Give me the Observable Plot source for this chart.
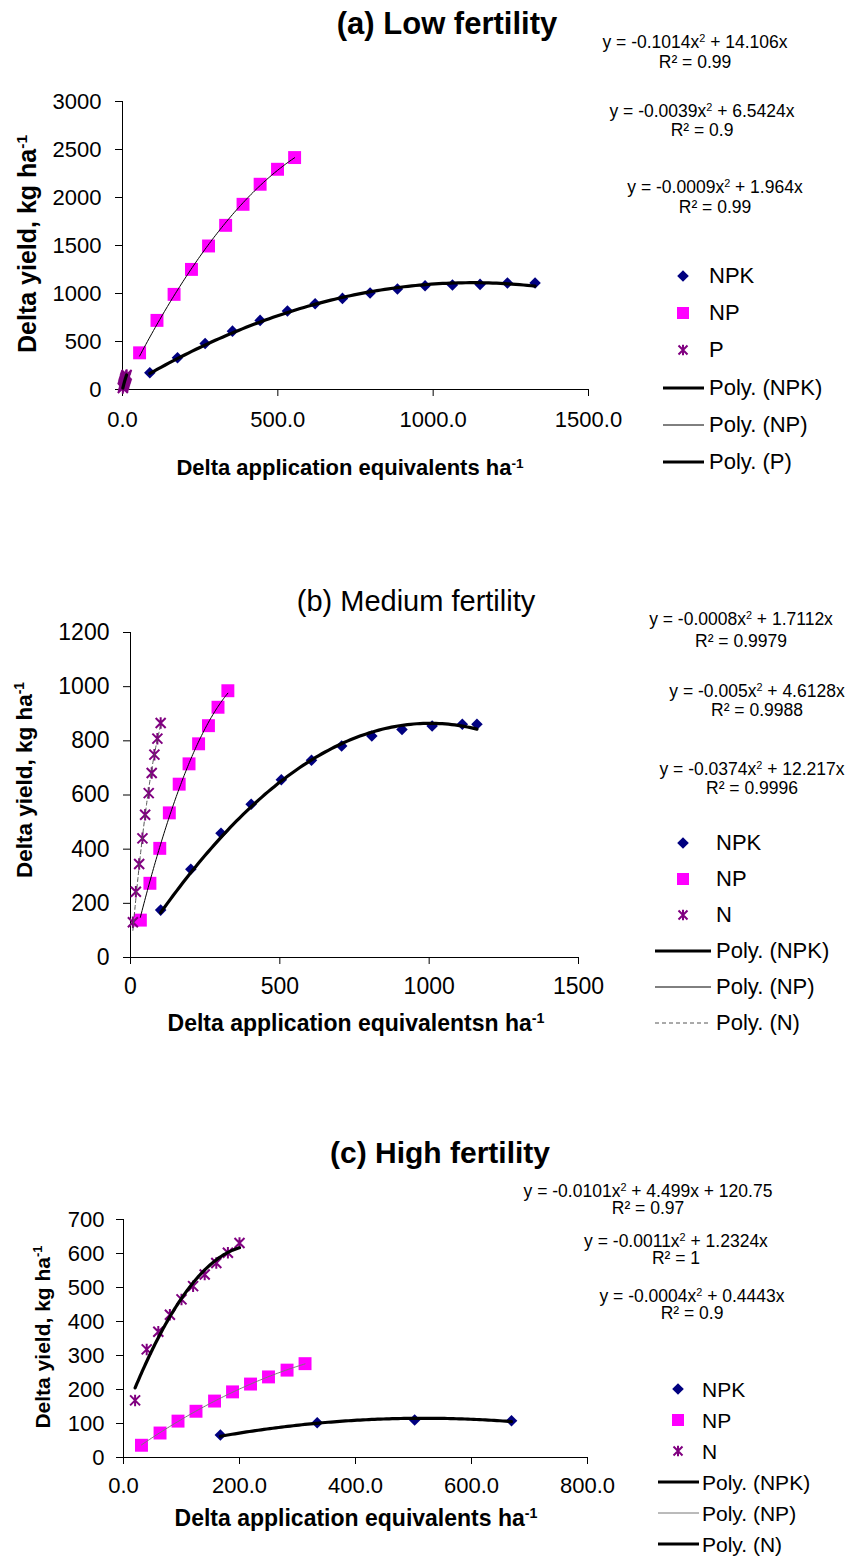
<!DOCTYPE html>
<html><head><meta charset="utf-8">
<script src="https://cdn.jsdelivr.net/npm/d3@7"></script>
<script src="https://cdn.jsdelivr.net/npm/@observablehq/plot@0.6"></script>
<style>
body{margin:0;background:#fff;}
#page{position:relative;width:856px;height:1558px;overflow:hidden;font-family:"Liberation Sans",Arial,sans-serif;color:#000;}
.t{position:absolute;white-space:nowrap;line-height:1;}
.c{transform:translate(-50%,-50%);text-align:center;}
.l{transform:translate(0,-50%);}
.r{transform:translate(-50%,-50%) rotate(-90deg);}
sup{font-size:0.62em;line-height:0;vertical-align:0.55em;}
.eq{font-size:17.5px;text-align:center;}
</style></head><body><div id="page"></div>
<script>
// ---------- DATA ----------
// Panel (a) Low fertility
const aNPK_x = [88, 177, 266, 354, 443, 531, 620, 708, 797, 885, 974, 1062, 1151, 1239, 1328];
const aNPK_y = [174, 330, 480, 608, 720, 817, 893, 949, 1005, 1046, 1081, 1088, 1095, 1109, 1109];
const aNP_x = [55, 111, 166, 222, 277, 332, 388, 443, 499, 554];
const aNP_y = [382, 720, 991, 1251, 1495, 1710, 1929, 2138, 2294, 2416];
const aP_x = [1.1, 2.2, 3.3, 4.4, 5.5, 6.6, 7.7, 8.8, 9.9, 11, 12.1, 13.2];
const aP_y = [16, 30, 45, 58, 70, 83, 95, 108, 119, 131, 142, 152];
const aXTicks = [0, 500, 1000, 1500];
const aYTicks = [0, 500, 1000, 1500, 2000, 2500, 3000];
const aLegend = ["NPK", "NP", "P", "Poly. (NPK)", "Poly. (NP)", "Poly. (P)"];
const aEq = [["-0.1014", "14.106x", "0.99"], ["-0.0039", "6.5424x", "0.9"], ["-0.0009", "1.964x", "0.99"]];

// Panel (b) Medium fertility
const bNPK_x = [101, 202, 303, 404, 505, 606, 707, 808, 909, 1010, 1111, 1160];
const bNPK_y = [175, 326, 459, 566, 656, 728, 781, 818, 842, 855, 861, 861];
const bNP_x = [33, 65, 98, 130, 163, 196, 228, 261, 293, 326];
const bNP_y = [138, 274, 403, 534, 640, 715, 789, 856, 924, 985];
const bN_x = [8, 18, 29, 40, 49, 61, 71, 80, 90, 101];
const bN_y = [130, 243, 345, 440, 527, 607, 681, 749, 808, 866];
const bXTicks = [0, 500, 1000, 1500];
const bYTicks = [0, 200, 400, 600, 800, 1000, 1200];
const bLegend = ["NPK", "NP", "N", "Poly. (NPK)", "Poly. (NP)", "Poly. (N)"];
const bEq = [["-0.0008", "1.7112x", "0.9979"], ["-0.005", "4.6128x", "0.9988"], ["-0.0374", "12.217x", "0.9996"]];

// Panel (c) High fertility
const cNPK_x = [167, 334, 502, 669];
const cNPK_y = [66, 102, 110, 108];
const cNP_x = [31, 63, 94, 125, 157, 188, 219, 250, 282, 313];
const cNP_y = [36, 72, 107, 136, 166, 193, 216, 237, 257, 276];
const cN_x = [20, 40, 60, 80, 100, 120, 140, 160, 180, 200];
const cN_y = [168, 318, 370, 420, 465, 504, 538, 572, 602, 631];
const cXTicks = [0, 200, 400, 600, 800];
const cYTicks = [0, 100, 200, 300, 400, 500, 600, 700];
const cLegend = ["NPK", "NP", "N", "Poly. (NPK)", "Poly. (NP)", "Poly. (N)"];
const cEq = [["-0.0101", "4.499x + 120.75", "0.97"], ["-0.0011", "1.2324x", "1"], ["-0.0004", "0.4443x", "0.9"]];

// ---------- HELPERS ----------
const page = document.getElementById("page");
const NAVY = "#000080", MAG = "#FF00FF", PURP = "#800080";
const starSym = {draw(ctx, size) {
  const r = Math.sqrt(size / Math.PI);
  ctx.moveTo(-r, -r); ctx.lineTo(r, r);
  ctx.moveTo(r, -r); ctx.lineTo(-r, r);
  ctx.moveTo(0, -r * 1.15); ctx.lineTo(0, r * 1.15);
}};
const zip = (xs, ys) => xs.map((x, i) => ({x, y: ys[i]}));

// least-squares quadratic trendline (as in the spreadsheet's "Poly." trendline)
function trend(xs, ys, intercept) {
  const basis = intercept ? [x => x * x, x => x, () => 1] : [x => x * x, x => x];
  const k = basis.length;
  const M = Array.from({length: k}, () => Array(k + 1).fill(0));
  xs.forEach((x, i) => {
    const f = basis.map(b => b(x));
    for (let r = 0; r < k; r++) { for (let c = 0; c < k; c++) M[r][c] += f[r] * f[c]; M[r][k] += f[r] * ys[i]; }
  });
  for (let i = 0; i < k; i++) {
    let p = i; for (let r = i + 1; r < k; r++) if (Math.abs(M[r][i]) > Math.abs(M[p][i])) p = r;
    [M[i], M[p]] = [M[p], M[i]];
    for (let r = 0; r < k; r++) { if (r === i) continue; const f = M[r][i] / M[i][i]; for (let c = i; c <= k; c++) M[r][c] -= f * M[i][c]; }
  }
  const coef = M.map((row, i) => row[k] / row[i]);
  const f = x => basis.reduce((s, b, i) => s + coef[i] * b(x), 0);
  const [lo, hi] = d3.extent(xs);
  return d3.range(0, 101).map(i => { const x = lo + (hi - lo) * i / 100; return {x, y: f(x)}; });
}

function text(html, x, y, cls, style) {
  const d = document.createElement("div");
  d.className = "t " + cls;
  d.innerHTML = html;
  d.style.left = x + "px"; d.style.top = y + "px";
  Object.assign(d.style, style || {});
  page.appendChild(d);
  return d;
}

function panel(cfg) {
  const svg = Plot.plot({
    width: 856, height: cfg.height,
    marginLeft: cfg.ml, marginRight: 856 - cfg.xr, marginTop: cfg.mt, marginBottom: cfg.mb,
    style: {fontFamily: '"Liberation Sans", Arial, sans-serif', fontSize: cfg.fs + "px", color: "#000", background: "transparent", overflow: "visible"},
    x: {domain: cfg.xDomain, label: null},
    y: {domain: cfg.yDomain, label: null},
    marks: [
      Plot.axisY({ticks: cfg.yTicks, tickSize: 7, tickPadding: cfg.ytp, tickFormat: d => String(d), label: null}),
      Plot.axisX({ticks: cfg.xTicks, tickSize: 7, tickPadding: cfg.xtp, tickFormat: cfg.xFmt, label: null}),
      Plot.ruleX([cfg.xDomain[0]], {stroke: "#000"}),
      Plot.ruleY([cfg.yDomain[0]], {stroke: "#000"}),
      ...cfg.marks
    ]
  });
  svg.style.position = "absolute"; svg.style.left = "0px"; svg.style.top = cfg.top + "px";
  page.appendChild(svg);
}

function legend(cfg) {
  const svg = d3.select(page).append("svg")
    .attr("width", 856).attr("height", 1558)
    .style("position", "absolute").style("left", 0).style("top", 0).style("pointer-events", "none");
  const y = cfg.rows;
  const g = svg.append("g");
  const mx = cfg.mx;
  g.append("path").attr("d", `M${mx},${y[0]-5.8}L${mx+5.8},${y[0]}L${mx},${y[0]+5.8}L${mx-5.8},${y[0]}Z`).attr("fill", NAVY);
  g.append("rect").attr("x", mx - 6).attr("y", y[1] - 6).attr("width", 12).attr("height", 12).attr("fill", MAG);
  const r = 4.5;
  g.append("path").attr("d", `M${mx-r},${y[2]-r}L${mx+r},${y[2]+r}M${mx+r},${y[2]-r}L${mx-r},${y[2]+r}M${mx},${y[2]-r*1.15}L${mx},${y[2]+r*1.15}`)
    .attr("stroke", PURP).attr("stroke-width", 2).attr("fill", "none");
  cfg.lines.forEach((ls, i) => {
    g.append("line").attr("x1", cfg.lx0).attr("x2", cfg.lx1).attr("y1", y[3 + i]).attr("y2", y[3 + i])
      .attr("stroke", ls.stroke).attr("stroke-width", ls.w).attr("stroke-dasharray", ls.dash || null);
  });
  cfg.labels.forEach((lab, i) => text(lab, cfg.tx, y[i], "l", {fontSize: cfg.fs + "px"}));
}

function equations(eqs, pos) {
  eqs.forEach((e, i) => {
    const p = pos[i];
    text(`y = ${e[0]}x<sup>2</sup> + ${e[1]}`, p[0], p[1], "c eq");
    text(`R² = ${e[2]}`, p[0], p[2], "c eq");
  });
}

// ---------- PANEL (a) ----------
panel({
  top: 0, height: 440, ml: 122, xr: 588, mt: 101, mb: 440 - 389, fs: 22, xtp: 15, ytp: 14,
  xDomain: [0, 1500], yDomain: [0, 3000], xTicks: aXTicks, yTicks: aYTicks, xFmt: d => d.toFixed(1),
  marks: [
    Plot.dot(zip(aNPK_x, aNPK_y), {x: "x", y: "y", symbol: "diamond2", r: 5.2, fill: NAVY, stroke: "none"}),
    Plot.dot(zip(aNP_x, aNP_y), {x: "x", y: "y", symbol: "square", r: 7.3, fill: MAG, stroke: "none"}),
    Plot.dot(zip(aP_x, aP_y), {x: "x", y: "y", symbol: starSym, r: 5, fill: "none", stroke: PURP, strokeWidth: 2}),
    Plot.line(trend(aNPK_x, aNPK_y, false), {x: "x", y: "y", stroke: "#000", strokeWidth: 3.2}),
    Plot.line(trend(aNP_x, aNP_y, false), {x: "x", y: "y", stroke: "#000", strokeWidth: 1}),
    Plot.line(trend(aP_x, aP_y, false), {x: "x", y: "y", stroke: "#000", strokeWidth: 3.2})
  ]
});
text("(a) Low fertility", 447, 23, "c", {fontSize: "31px", fontWeight: "bold"});
text("Delta yield, kg ha<sup>-1</sup>", 27, 244, "r", {fontSize: "25px", fontWeight: "bold"});
text("Delta application equivalents ha<sup>-1</sup>", 350, 468, "c", {fontSize: "22px", fontWeight: "bold"});
equations(aEq, [[695, 43, 63], [702, 112, 131], [715, 188, 208]]);
legend({rows: [276, 313, 350, 388, 425, 462], mx: 683, tx: 709, lx0: 663, lx1: 704, fs: 22, labels: aLegend,
  lines: [{stroke: "#000", w: 3.2}, {stroke: "#000", w: 1}, {stroke: "#000", w: 3.2}]});

// ---------- PANEL (b) ----------
panel({
  top: 560, height: 440, ml: 130, xr: 578, mt: 632 - 560, mb: 1000 - 957, fs: 23, xtp: 13, ytp: 14,
  xDomain: [0, 1500], yDomain: [0, 1200], xTicks: bXTicks, yTicks: bYTicks, xFmt: d => String(d),
  marks: [
    Plot.dot(zip(bNPK_x, bNPK_y), {x: "x", y: "y", symbol: "diamond2", r: 5.2, fill: NAVY, stroke: "none"}),
    Plot.dot(zip(bNP_x, bNP_y), {x: "x", y: "y", symbol: "square", r: 7.3, fill: MAG, stroke: "none"}),
    Plot.dot(zip(bN_x, bN_y), {x: "x", y: "y", symbol: starSym, r: 5, fill: "none", stroke: PURP, strokeWidth: 2}),
    Plot.line(trend(bNPK_x, bNPK_y, false), {x: "x", y: "y", stroke: "#000", strokeWidth: 3.2}),
    Plot.line(trend(bNP_x, bNP_y, false), {x: "x", y: "y", stroke: "#000", strokeWidth: 1}),
    Plot.line(trend(bN_x, bN_y, false), {x: "x", y: "y", stroke: "#555", strokeWidth: 1, strokeDasharray: "4,3"})
  ]
});
text("(b) Medium fertility", 416, 601, "c", {fontSize: "29px"});
text("Delta yield, kg ha<sup>-1</sup>", 25, 780, "r", {fontSize: "22.5px", fontWeight: "bold"});
text("Delta application equivalentsn ha<sup>-1</sup>", 356, 1023, "c", {fontSize: "23px", fontWeight: "bold"});
equations(bEq, [[741, 620, 642], [757, 692, 711], [752, 770, 789]]);
legend({rows: [843, 879, 915, 951, 987, 1023], mx: 683, tx: 716, lx0: 655, lx1: 711, fs: 22, labels: bLegend,
  lines: [{stroke: "#000", w: 3.2}, {stroke: "#000", w: 1}, {stroke: "#555", w: 1, dash: "4,3"}]});

// ---------- PANEL (c) ----------
panel({
  top: 1160, height: 350, ml: 123, xr: 587, mt: 1219 - 1160, mb: 1510 - 1457, fs: 22, xtp: 13, ytp: 12,
  xDomain: [0, 800], yDomain: [0, 700], xTicks: cXTicks, yTicks: cYTicks, xFmt: d => d.toFixed(1),
  marks: [
    Plot.dot(zip(cNPK_x, cNPK_y), {x: "x", y: "y", symbol: "diamond2", r: 5.2, fill: NAVY, stroke: "none"}),
    Plot.dot(zip(cNP_x, cNP_y), {x: "x", y: "y", symbol: "square", r: 7.3, fill: MAG, stroke: "none"}),
    Plot.dot(zip(cN_x, cN_y), {x: "x", y: "y", symbol: starSym, r: 5, fill: "none", stroke: PURP, strokeWidth: 2}),
    Plot.line(trend(cNPK_x, cNPK_y, false), {x: "x", y: "y", stroke: "#000", strokeWidth: 3.2}),
    Plot.line(trend(cNP_x, cNP_y, false), {x: "x", y: "y", stroke: "#777", strokeWidth: 1}),
    Plot.line(trend(cN_x, cN_y, true), {x: "x", y: "y", stroke: "#000", strokeWidth: 3.2})
  ]
});
text("(c) High fertility", 440, 1153, "c", {fontSize: "30px", fontWeight: "bold"});
text("Delta yield, kg ha<sup>-1</sup>", 42, 1337, "r", {fontSize: "21px", fontWeight: "bold"});
text("Delta application equivalents ha<sup>-1</sup>", 356, 1518, "c", {fontSize: "23px", fontWeight: "bold"});
equations(cEq, [[648, 1192, 1209], [676, 1242, 1259], [692, 1297, 1314]]);
legend({rows: [1389, 1420, 1451, 1482, 1513, 1544], mx: 678, tx: 702, lx0: 658, lx1: 699, fs: 21, labels: cLegend,
  lines: [{stroke: "#000", w: 3.2}, {stroke: "#777", w: 1}, {stroke: "#000", w: 3.2}]});
</script>
</body></html>
